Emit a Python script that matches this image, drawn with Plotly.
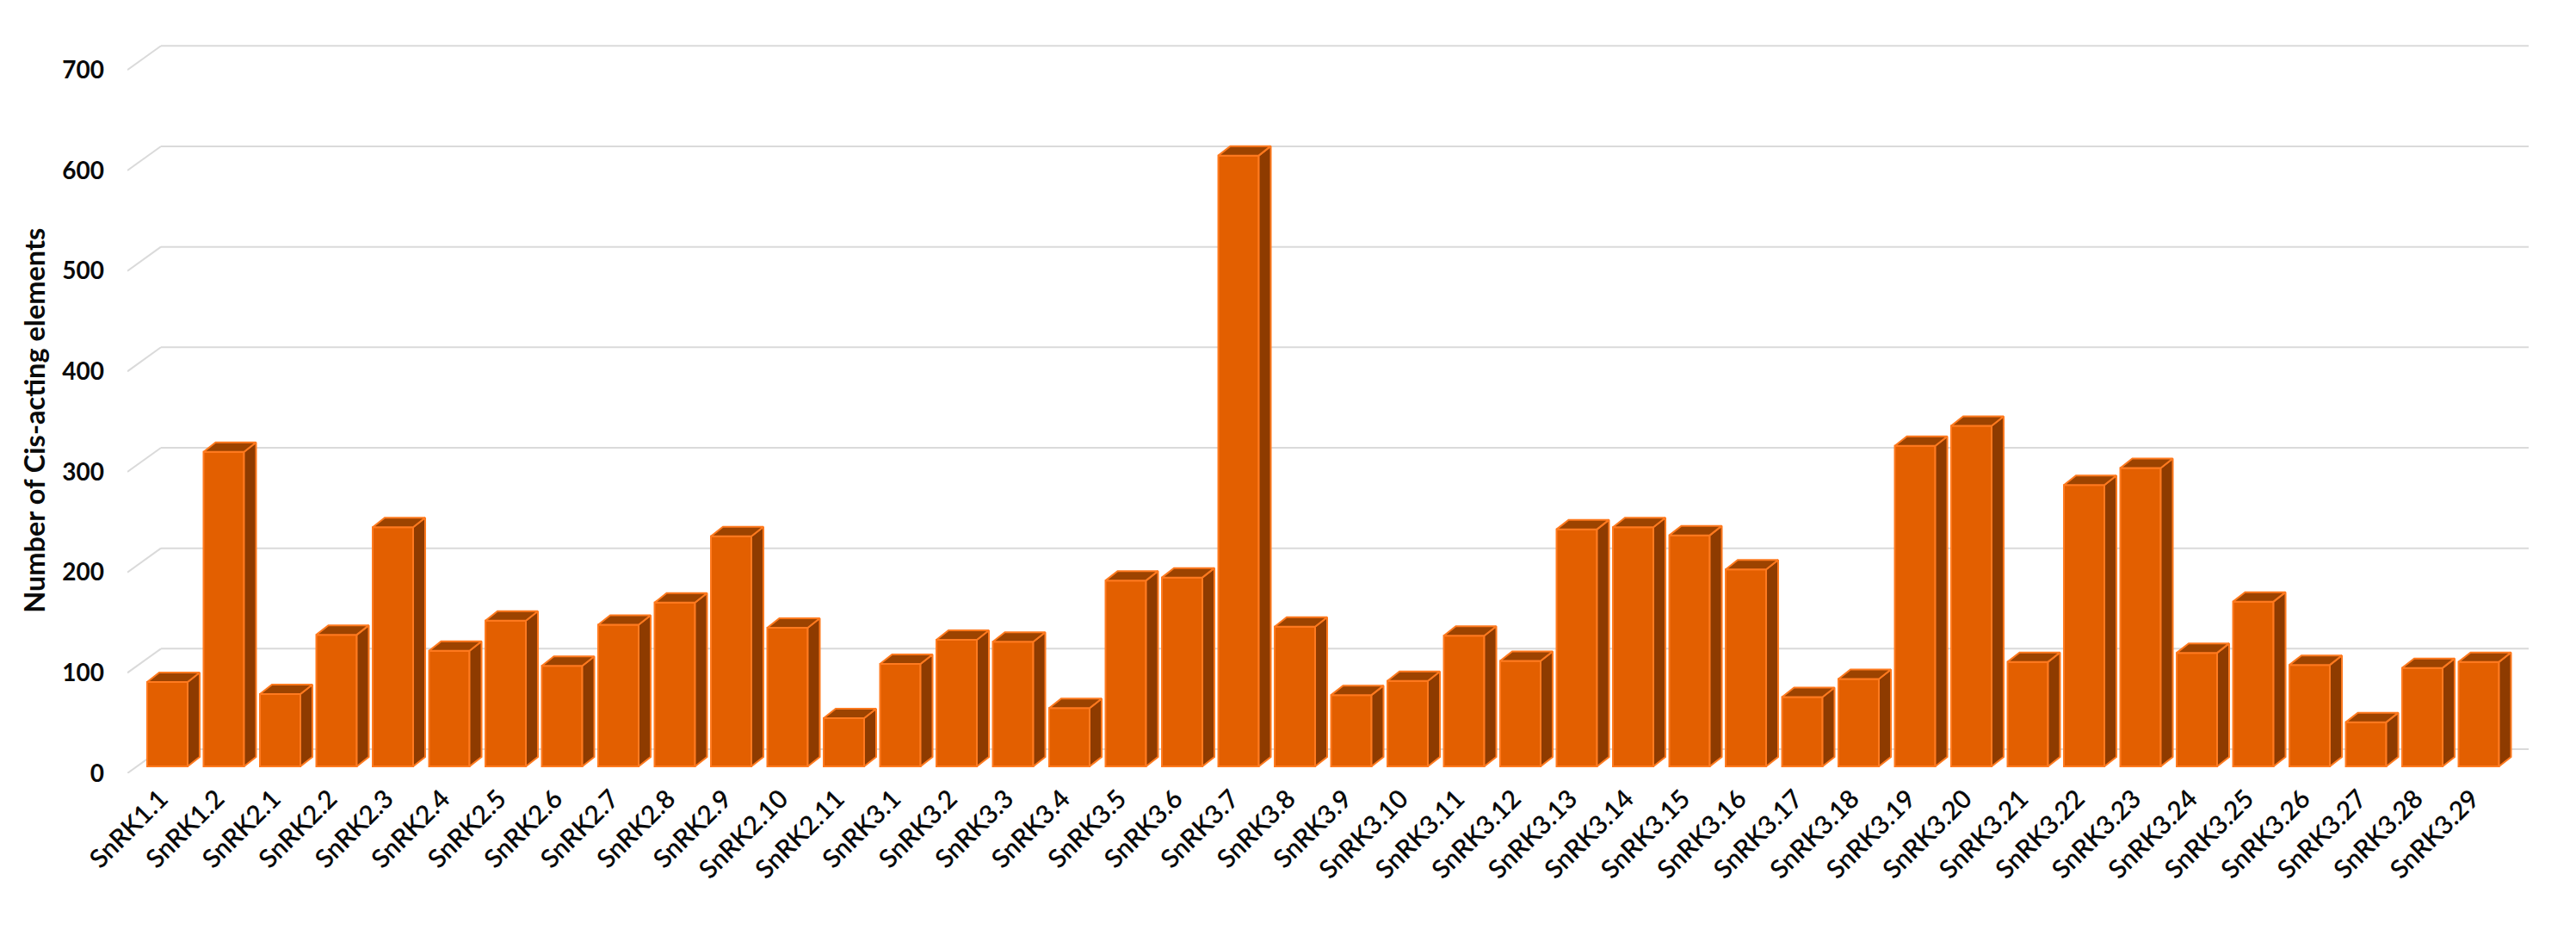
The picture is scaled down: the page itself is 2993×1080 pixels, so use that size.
import plotly.graph_objects as go

genes = (
    [f"SnRK1.{i}" for i in range(1, 3)]
    + [f"SnRK2.{i}" for i in range(1, 12)]
    + [f"SnRK3.{i}" for i in range(1, 30)]
)
counts = [
    84, 313, 72, 131, 238, 115, 145, 100, 141, 163, 229, 138, 48,
    102, 126, 124, 58, 185, 188, 608, 139, 71, 85, 130, 105, 236, 238, 230,
    196, 69, 87, 319, 339, 104, 280, 297, 113, 164, 101, 44, 98, 104,
]
y_ticks = [0, 100, 200, 300, 400, 500, 600, 700]

FRONT = "#E35F00"
EDGE = "#FF7A1F"
SIDE = "#8E3B00"
TOP = "#9C4300"
GRID = "#DADADA"
FONT = "Lato"

# the fake 3D look: offsets in axis units (one bar step in x, one count in y)
BAR_WIDTH = 0.7176
DEPTH_X = 0.2137
DEPTH_Y = 9.43
FLOOR_LIFT = 6.86
WALL_LIFT = 24.0
X_MIN = -0.71
X_MAX = 41.885
WALL_LEFT = -0.1145


def side_faces(xs, values):
    px, py = [], []
    for x, v in zip(xs, values):
        right = x + BAR_WIDTH / 2
        top = v + FLOOR_LIFT
        px += [right, right + DEPTH_X, right + DEPTH_X, right, right, None]
        py += [FLOOR_LIFT, FLOOR_LIFT + DEPTH_Y, top + DEPTH_Y, top, FLOOR_LIFT, None]
    return px, py


def top_faces(xs, values):
    px, py = [], []
    for x, v in zip(xs, values):
        left = x - BAR_WIDTH / 2
        right = x + BAR_WIDTH / 2
        top = v + FLOOR_LIFT
        px += [left, right, right + DEPTH_X, left + DEPTH_X, left, None]
        py += [top, top, top + DEPTH_Y, top + DEPTH_Y, top, None]
    return px, py


def wall_grid(ticks):
    shapes = []
    for t in ticks:
        line = dict(color=GRID, width=2)
        shapes.append(dict(type="line", layer="below", x0=WALL_LEFT, x1=X_MAX,
                           y0=t + WALL_LIFT, y1=t + WALL_LIFT, line=line))
        shapes.append(dict(type="line", layer="below", x0=X_MIN, x1=WALL_LEFT,
                           y0=t, y1=t + WALL_LIFT, line=line))
    return shapes


positions = list(range(len(genes)))

fig = go.Figure()
fig.add_trace(
    go.Bar(
        x=positions,
        y=counts,
        base=FLOOR_LIFT,
        width=BAR_WIDTH,
        marker=dict(color=FRONT, line=dict(color=EDGE, width=2)),
        hovertext=genes,
        hovertemplate="%{hovertext}: %{y}<extra></extra>",
        showlegend=False,
    )
)
for faces, colour in [(side_faces, SIDE), (top_faces, TOP)]:
    px, py = faces(positions, counts)
    fig.add_trace(
        go.Scatter(
            x=px,
            y=py,
            mode="lines",
            fill="toself",
            fillcolor=colour,
            line=dict(color=EDGE, width=2),
            hoverinfo="skip",
            showlegend=False,
        )
    )

# the page keeps an 8px body margin, so the figure is 16px smaller than the window
fig.update_layout(
    width=2977,
    height=1064,
    margin=dict(l=140, r=47, t=32, b=174, autoexpand=False),
    paper_bgcolor="white",
    plot_bgcolor="white",
    font=dict(family=FONT, color="#0A0A0A"),
    shapes=wall_grid(y_ticks),
    xaxis=dict(
        range=[X_MIN, X_MAX],
        tickmode="array",
        tickvals=positions,
        ticktext=genes,
        tickangle=-45,
        tickfont=dict(size=30, family=FONT, weight=600),
        ticklabelstandoff=5,
        ticklabelshift=-8,
        showgrid=False,
        zeroline=False,
        showline=False,
        ticks="",
    ),
    yaxis=dict(
        range=[0, 735.4],
        tickmode="array",
        tickvals=y_ticks,
        tickfont=dict(size=28, family=FONT, weight="bold"),
        ticklabelstandoff=26,
        showgrid=False,
        zeroline=False,
        showline=False,
        ticks="",
    ),
    annotations=[
        dict(
            text="<b>Number of Cis-acting elements</b>",
            textangle=-90,
            xref="paper",
            yref="paper",
            x=-0.0387,
            y=0.477,
            xanchor="center",
            yanchor="middle",
            showarrow=False,
            font=dict(size=32.5, family=FONT),
        )
    ],
)

fig.write_html("out.html")
